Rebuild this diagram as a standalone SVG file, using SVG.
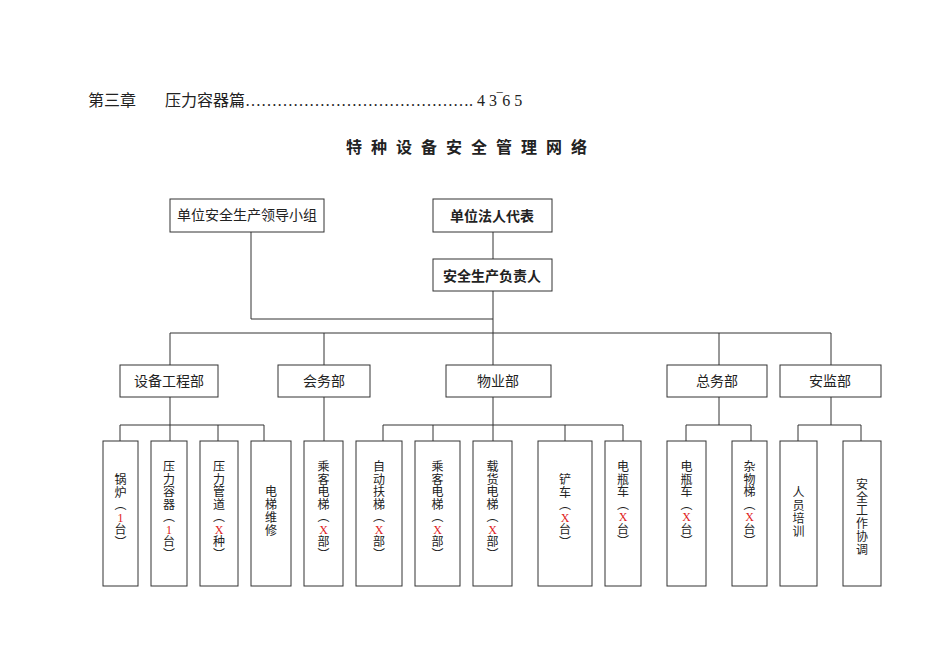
<svg xmlns="http://www.w3.org/2000/svg" width="950" height="672" viewBox="0 0 950 672">
<style>
text{font-family:"Liberation Serif","Noto Sans CJK SC",serif;fill:#222}
.b{fill:#fff;stroke:#333;stroke-width:1}
.l{fill:none;stroke:#333;stroke-width:1}
.h{font-size:14px;text-anchor:middle;dominant-baseline:central}
.v{font-size:12px;text-anchor:middle;dominant-baseline:central}
.r{fill:#e02020}
.bold{font-family:"Noto Sans CJK SC",sans-serif;font-weight:bold}
</style>
<rect width="950" height="672" fill="#fff"/>
<text x="88" y="106" font-size="16">第三章<tspan x="165">压力容器篇……………………………………. 4 3‾6 5</tspan></text>
<text x="471" y="153" font-size="16" text-anchor="middle" letter-spacing="9" class="bold">特种设备安全管理网络</text>
<g id="connectors" class="l">
<path d="M251 232V319H493M493 232V259M493 291V333M170 333H831M170 333V365M324 333V365M493 333V365M719 333V365M831 333V365"/>
<path d="M170 397V425M120 425H264M120 425V441M170 425V441M218 425V441M264 425V441"/>
<path d="M324 397V441"/>
<path d="M493 397V441M383 425H623M383 425V441M433 425V441M565 425V441M623 425V441"/>
<path d="M719 397V425M686 425H751M686 425V441M751 425V441"/>
<path d="M831 397V425M798 425H861M798 425V441M861 425V441"/>
</g>
<g id="n-lead"><rect class="b" x="170" y="199" width="154" height="33"/><text class="h" x="247" y="215">单位安全生产领导小组</text></g>
<g id="n-legal"><rect class="b" x="433" y="199" width="119" height="33"/><text class="h bold" x="492" y="215">单位法人代表</text></g>
<g id="n-resp"><rect class="b" x="433" y="259" width="119" height="32"/><text class="h bold" x="492" y="275">安全生产负责人</text></g>
<g id="n-eq"><rect class="b" x="120" y="365" width="98" height="32"/><text class="h" x="169" y="381">设备工程部</text></g>
<g id="n-hw"><rect class="b" x="278" y="365" width="92" height="32"/><text class="h" x="324" y="381">会务部</text></g>
<g id="n-wy"><rect class="b" x="446" y="365" width="105" height="32"/><text class="h" x="498" y="381">物业部</text></g>
<g id="n-zw"><rect class="b" x="667" y="365" width="100" height="32"/><text class="h" x="717" y="381">总务部</text></g>
<g id="n-aj"><rect class="b" x="780" y="365" width="101" height="32"/><text class="h" x="830" y="381" font-size="16">安监部</text></g>

<g id="l1"><rect class="b" x="103" y="441" width="35" height="145"/><text class="v"><tspan x="120.5" y="480">锅</tspan><tspan x="120.5" y="492.5">炉</tspan><tspan x="120.5" y="505">︵</tspan><tspan x="120.5" y="517.5" class="r">1</tspan><tspan x="120.5" y="530">台</tspan><tspan x="120.5" y="542.5">︶</tspan></text></g>
<g id="l2"><rect class="b" x="151" y="441" width="36" height="145"/><text class="v"><tspan x="169" y="467">压</tspan><tspan x="169" y="479.5">力</tspan><tspan x="169" y="492">容</tspan><tspan x="169" y="504.5">器</tspan><tspan x="169" y="517">︵</tspan><tspan x="169" y="529.5" class="r">1</tspan><tspan x="169" y="542">台</tspan><tspan x="169" y="554.5">︶</tspan></text></g>
<g id="l3"><rect class="b" x="200" y="441" width="38" height="145"/><text class="v"><tspan x="219" y="467">压</tspan><tspan x="219" y="479.5">力</tspan><tspan x="219" y="492">管</tspan><tspan x="219" y="504.5">道</tspan><tspan x="219" y="517">︵</tspan><tspan x="219" y="529.5" class="r">X</tspan><tspan x="219" y="542">种</tspan><tspan x="219" y="554.5">︶</tspan></text></g>
<g id="l4"><rect class="b" x="251" y="441" width="40" height="145"/><text class="v"><tspan x="271" y="492">电</tspan><tspan x="271" y="505">梯</tspan><tspan x="271" y="518">维</tspan><tspan x="271" y="531">修</tspan></text></g>
<g id="l5"><rect class="b" x="304" y="441" width="39" height="145"/><text class="v"><tspan x="323.5" y="467">乘</tspan><tspan x="323.5" y="479.5">客</tspan><tspan x="323.5" y="492">电</tspan><tspan x="323.5" y="504.5">梯</tspan><tspan x="323.5" y="517">︵</tspan><tspan x="323.5" y="529.5" class="r">X</tspan><tspan x="323.5" y="542">部</tspan><tspan x="323.5" y="554.5">︶</tspan></text></g>
<g id="l6"><rect class="b" x="356" y="441" width="46" height="145"/><text class="v"><tspan x="379" y="467">自</tspan><tspan x="379" y="479.5">动</tspan><tspan x="379" y="492">扶</tspan><tspan x="379" y="504.5">梯</tspan><tspan x="379" y="517">︵</tspan><tspan x="379" y="529.5" class="r">X</tspan><tspan x="379" y="542">部</tspan><tspan x="379" y="554.5">︶</tspan></text></g>
<g id="l7"><rect class="b" x="415" y="441" width="45" height="145"/><text class="v"><tspan x="437.5" y="467">乘</tspan><tspan x="437.5" y="479.5">客</tspan><tspan x="437.5" y="492">电</tspan><tspan x="437.5" y="504.5">梯</tspan><tspan x="437.5" y="517">︵</tspan><tspan x="437.5" y="529.5" class="r">X</tspan><tspan x="437.5" y="542">部</tspan><tspan x="437.5" y="554.5">︶</tspan></text></g>
<g id="l8"><rect class="b" x="473" y="441" width="39" height="145"/><text class="v"><tspan x="492.5" y="467">载</tspan><tspan x="492.5" y="479.5">货</tspan><tspan x="492.5" y="492">电</tspan><tspan x="492.5" y="504.5">梯</tspan><tspan x="492.5" y="517">︵</tspan><tspan x="492.5" y="529.5" class="r">X</tspan><tspan x="492.5" y="542">部</tspan><tspan x="492.5" y="554.5">︶</tspan></text></g>
<g id="l9"><rect class="b" x="538" y="441" width="54" height="145"/><text class="v"><tspan x="565" y="480">铲</tspan><tspan x="565" y="492.5">车</tspan><tspan x="565" y="505">︵</tspan><tspan x="565" y="517.5" class="r">X</tspan><tspan x="565" y="530">台</tspan><tspan x="565" y="542.5">︶</tspan></text></g>
<g id="l10"><rect class="b" x="605" y="441" width="36" height="145"/><text class="v"><tspan x="623" y="467">电</tspan><tspan x="623" y="479.5">瓶</tspan><tspan x="623" y="492">车</tspan><tspan x="623" y="504.5">︵</tspan><tspan x="623" y="517" class="r">X</tspan><tspan x="623" y="529.5">台</tspan><tspan x="623" y="542">︶</tspan></text></g>
<g id="l11"><rect class="b" x="667" y="441" width="39" height="145"/><text class="v"><tspan x="686.5" y="467">电</tspan><tspan x="686.5" y="479.5">瓶</tspan><tspan x="686.5" y="492">车</tspan><tspan x="686.5" y="504.5">︵</tspan><tspan x="686.5" y="517" class="r">X</tspan><tspan x="686.5" y="529.5">台</tspan><tspan x="686.5" y="542">︶</tspan></text></g>
<g id="l12"><rect class="b" x="732" y="441" width="35" height="145"/><text class="v"><tspan x="749.5" y="467">杂</tspan><tspan x="749.5" y="479.5">物</tspan><tspan x="749.5" y="492">梯</tspan><tspan x="749.5" y="504.5">︵</tspan><tspan x="749.5" y="517" class="r">X</tspan><tspan x="749.5" y="529.5">台</tspan><tspan x="749.5" y="542">︶</tspan></text></g>
<g id="l13"><rect class="b" x="780" y="441" width="37" height="145"/><text class="v"><tspan x="798.5" y="493">人</tspan><tspan x="798.5" y="506">员</tspan><tspan x="798.5" y="519">培</tspan><tspan x="798.5" y="532">训</tspan></text></g>
<g id="l14"><rect class="b" x="843" y="441" width="38" height="145"/><text class="v"><tspan x="862" y="485">安</tspan><tspan x="862" y="498">全</tspan><tspan x="862" y="511">工</tspan><tspan x="862" y="524">作</tspan><tspan x="862" y="537">协</tspan><tspan x="862" y="550">调</tspan></text></g>
</svg>
